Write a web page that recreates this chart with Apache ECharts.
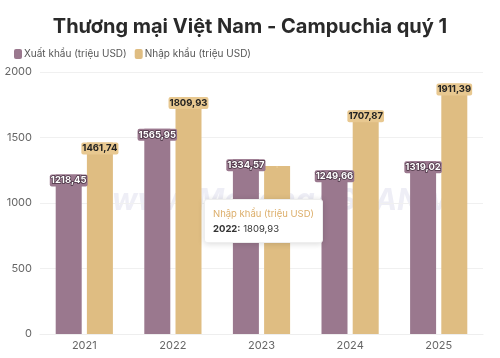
<!DOCTYPE html>
<html><head><meta charset="utf-8">
<script src="https://cdn.jsdelivr.net/npm/echarts@6/dist/echarts.min.js"></script>
<style>html,body{margin:0;padding:0;background:#fff}#c{width:500px;height:358px}</style>
</head><body><div id="c"></div>
<script>
const years = ['2021','2022','2023','2024','2025'];
const exportVals = [1218.45, 1565.95, 1334.57, 1249.66, 1319.02];
const importVals = [1461.74, 1809.93, 1283, 1707.87, 1911.39];
const yTicks = [0, 500, 1000, 1500, 2000];
const seriesNames = ['Xuất khẩu (triệu USD)', 'Nhập khẩu (triệu USD)'];

const fmt = v => v.toFixed(2).replace('.', ',');
const chart = echarts.init(document.getElementById('c'));
const FONT = 'Inter, "Noto Sans", sans-serif';
chart.setOption({
  animation: false,
  textStyle: { fontFamily: FONT },
  title: { text: 'Thương mại Việt Nam - Campuchia quý 1', left: 'center', top: 12,
    textStyle: { fontSize: 20, fontWeight: 'bold', color: '#2a2a2a', fontFamily: FONT } },
  legend: { left: 9, top: 44, itemWidth: 8, itemHeight: 10, itemGap: 8,
    icon: 'roundRect', textStyle: { fontSize: 10, color: '#555', padding: [0,0,0,-3] } },
  grid: { left: 40, right: 17, top: 72, bottom: 24 },
  tooltip: { trigger: 'item', alwaysShowContent: true, position: [204, 199],
    backgroundColor: '#fff', borderColor: '#eee', borderWidth: 1, padding: [6, 8],
    extraCssText: 'box-shadow:0 1px 6px rgba(0,0,0,0.15);border-radius:3px;',
    formatter: p => '<div style="font-family:Inter,sans-serif;font-size:9.5px;line-height:15px">'
      + '<span style="color:#dcae6a">' + p.seriesName + '</span><br/>'
      + '<b style="color:#333">' + p.name + ':</b> <span style="color:#333">' + fmt(p.value) + '</span></div>' },
  xAxis: { type: 'category', data: years,
    axisLine: { lineStyle: { color: '#eee' } }, axisTick: { show: false },
    axisLabel: { color: '#666', fontSize: 11, margin: 6 } },
  yAxis: { type: 'value', min: yTicks[0], max: yTicks[yTicks.length-1], interval: 500,
    axisLabel: { color: '#666', fontSize: 11, margin: 8, formatter: v => String(v) },
    splitLine: { lineStyle: { color: '#f0f0f0' } } },
  graphic: [{ type: 'text', left: 112, top: 186, z: 0,
    style: { text: 'www.MekongASEAN.vn', fontSize: 30, fontWeight: 'bold', fontStyle: 'italic',
      fill: 'rgba(200,200,225,0.3)', fontFamily: FONT } }],
  series: [
    { name: seriesNames[0], type: 'bar', data: exportVals, barWidth: 26, barGap: '20%',
      itemStyle: { color: '#9a788e' },
      label: { show: true, position: 'insideTop', distance: 0, formatter: p => fmt(p.value),
        fontSize: 9.5, fontWeight: 'bold', color: '#fff', textBorderColor: '#4a3344', textBorderWidth: 1.5,
        backgroundColor: '#9a788e', padding: [1, 1], borderRadius: 2 } },
    { name: seriesNames[1], type: 'bar', data: importVals, barWidth: 26,
      itemStyle: { color: '#dfbd82' },
      label: { show: true, position: 'insideTop', distance: 0,
        formatter: p => p.dataIndex === 2 ? '' : fmt(p.value),
        fontSize: 9.5, fontWeight: 'bold', color: '#222',
        backgroundColor: '#e8c890', padding: [1, 1], borderRadius: 2 } }
  ]
});
chart.dispatchAction({ type: 'showTip', seriesIndex: 1, dataIndex: 1 });
</script></body></html>
